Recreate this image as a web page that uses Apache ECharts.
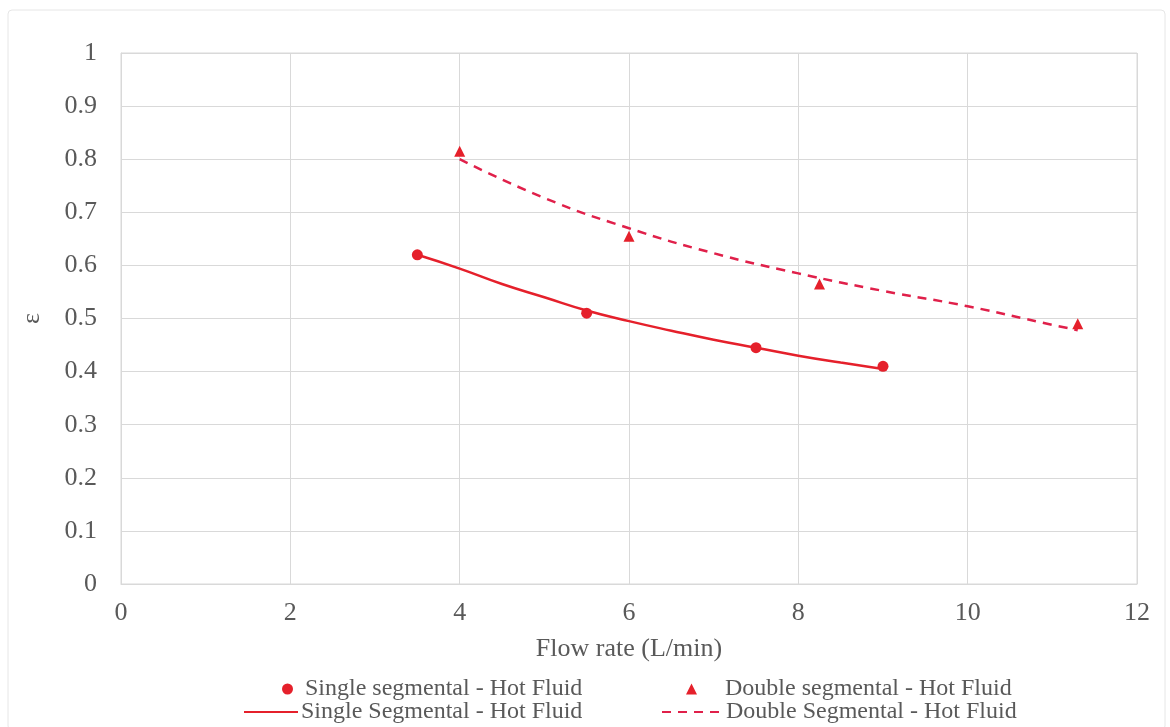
<!DOCTYPE html>
<html>
<head>
<meta charset="utf-8">
<script src="https://cdn.jsdelivr.net/npm/echarts@6/dist/echarts.min.js"></script>
<style>html,body{margin:0;padding:0;background:#fff;}#c{width:1170px;height:727px;}</style>
</head>
<body>
<div id="c"></div>
<script>
// Measured points
const singleX = [3.5, 5.5, 7.5, 9];
const singleY = [0.62, 0.51, 0.445, 0.41];
const doubleX = [4, 6, 8.25, 11.3];
const doubleY = [0.815, 0.655, 0.565, 0.49];
// Trend lines
const singleTrendX = [3.5, 4, 4.5, 5, 5.5, 6, 6.5, 7, 7.5, 8, 8.5, 9];
const singleTrendY = [0.62, 0.594, 0.565, 0.54, 0.515, 0.495, 0.477, 0.46, 0.445, 0.43, 0.417, 0.405];
const doubleTrendX = [4, 5, 6, 7, 8, 9, 10, 11, 11.3];
const doubleTrendY = [0.80, 0.727, 0.67, 0.623, 0.585, 0.552, 0.523, 0.488, 0.478];
const xTicks = [0, 2, 4, 6, 8, 10, 12];
const yTicks = [0, 0.1, 0.2, 0.3, 0.4, 0.5, 0.6, 0.7, 0.8, 0.9, 1];

const names = ['Single segmental - Hot Fluid', 'Double segmental - Hot Fluid', 'Single Segmental - Hot Fluid', 'Double Segmental - Hot Fluid'];
const zip = (a, b) => a.map((v, i) => [v, b[i]]);
const red1 = '#e5202b';
const red2 = '#e0204a';
const font = '"Liberation Serif", "Times New Roman", serif';
const txt = {fontFamily: font, fontSize: 26, color: '#595959'};

const chart = echarts.init(document.getElementById('c'));
const ltxt = {fontFamily: font, fontSize: 24, color: '#595959'};
chart.setOption({
  animation: false,
  backgroundColor: '#fff',
  graphic: [{type: 'rect', shape: {x: 8, y: 10, width: 1157, height: 720, r: 4}, style: {fill: 'none', stroke: '#e6e6e6', lineWidth: 1}, silent: true}],
  grid: {left: 121, right: 33, top: 53, bottom: 143, show: true, borderColor: '#d9d9d9', borderWidth: 1},
  xAxis: {
    type: 'value', min: 0, max: 12, interval: 2,
    name: 'Flow rate (L/min)', nameLocation: 'middle', nameGap: 52,
    nameTextStyle: Object.assign({}, txt),
    axisLine: {lineStyle: {color: '#d9d9d9'}}, axisTick: {show: false},
    axisLabel: Object.assign({}, txt, {margin: 16, formatter: v => xTicks.includes(v) ? String(v) : ''}),
    splitLine: {lineStyle: {color: '#d9d9d9'}}
  },
  yAxis: {
    type: 'value', min: 0, max: 1, interval: 0.1,
    name: 'ε', nameLocation: 'middle', nameGap: 76, nameRotate: 90,
    nameTextStyle: Object.assign({}, txt, {fontSize: 26}),
    axisLine: {show: true, lineStyle: {color: '#d9d9d9'}}, axisTick: {show: false},
    axisLabel: Object.assign({}, txt, {margin: 24, formatter: v => { const t = yTicks.find(k => Math.abs(k - v) < 1e-9); return t === undefined ? '' : String(t); }}),
    splitLine: {lineStyle: {color: '#d9d9d9'}}
  },
  legend: [
    {data: [{name: names[0], icon: 'circle'}], left: 282, top: 677, padding: 0, itemWidth: 11, itemHeight: 11, itemGap: 0, textStyle: Object.assign({}, ltxt, {padding: [0,0,0,7]})},
    {data: [{name: names[1], icon: 'triangle'}], left: 686, top: 677, padding: 0, itemWidth: 11, itemHeight: 11, itemGap: 0, textStyle: Object.assign({}, ltxt, {padding: [0,0,0,23]})},
    {data: [{name: names[2], itemStyle: {opacity: 0}}], left: 243, top: 700, padding: 0, itemWidth: 54, itemHeight: 12, itemGap: 0, textStyle: Object.assign({}, ltxt, {padding: [0,0,0,-2]})},
    {data: [{name: names[3], itemStyle: {opacity: 0}}], left: 661, top: 700, padding: 0, itemWidth: 59, itemHeight: 12, itemGap: 0, textStyle: Object.assign({}, ltxt, {padding: [0,0,0,0]})}
  ],
  series: [
    {name: names[2], type: 'line', data: zip(singleTrendX, singleTrendY), smooth: true, symbol: 'none', lineStyle: {color: red1, width: 2.5}, itemStyle: {color: red1}, z: 2},
    {name: names[3], type: 'line', data: zip(doubleTrendX, doubleTrendY), smooth: true, symbol: 'none', lineStyle: {color: red2, width: 2.5, type: [9, 7]}, itemStyle: {color: red2}, z: 2},
    {name: names[0], type: 'scatter', data: zip(singleX, singleY), symbol: 'circle', symbolSize: 11, itemStyle: {color: red1, opacity: 1}, z: 3},
    {name: names[1], type: 'scatter', data: zip(doubleX, doubleY), symbol: 'triangle', symbolSize: 11, itemStyle: {color: red1, opacity: 1}, z: 3}
  ]
});
</script>
</body>
</html>
